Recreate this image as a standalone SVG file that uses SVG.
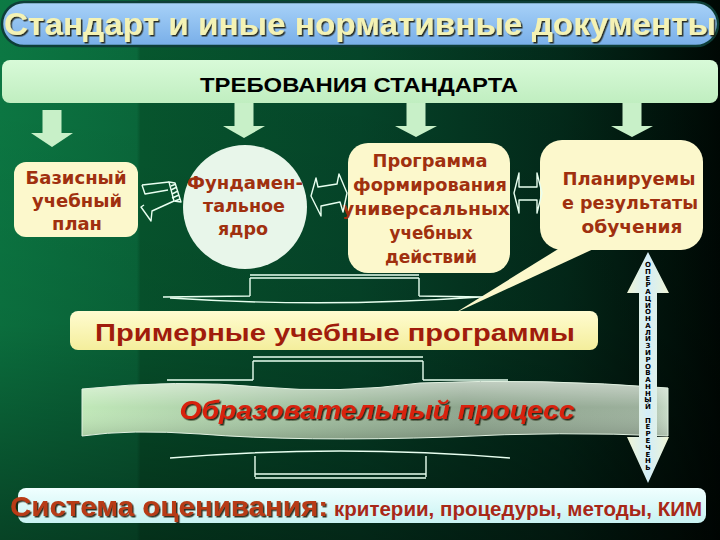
<svg xmlns="http://www.w3.org/2000/svg" width="720" height="540" viewBox="0 0 720 540">
<defs>
<linearGradient id="bg" x1="0" y1="0" x2="1" y2="0">
<stop offset="0" stop-color="#0c7a44"/>
<stop offset="0.19" stop-color="#0a6a3c"/>
<stop offset="0.195" stop-color="#07582f"/>
<stop offset="0.5" stop-color="#05462a"/>
<stop offset="0.78" stop-color="#032a1a"/>
<stop offset="1" stop-color="#000804"/>
</linearGradient>
<linearGradient id="bgv" x1="0" y1="0" x2="0" y2="1">
<stop offset="0" stop-color="#000" stop-opacity="0"/>
<stop offset="0.6" stop-color="#000" stop-opacity="0.1"/>
<stop offset="1" stop-color="#000" stop-opacity="0.45"/>
</linearGradient>
<linearGradient id="titleG" x1="0" y1="0" x2="0" y2="1">
<stop offset="0" stop-color="#a8d2f8"/>
<stop offset="1" stop-color="#78aee8"/>
</linearGradient>
<linearGradient id="reqG" x1="0" y1="0" x2="0" y2="1">
<stop offset="0" stop-color="#d8fad8"/>
<stop offset="1" stop-color="#c0eec0"/>
</linearGradient>
<linearGradient id="primG" x1="0" y1="0" x2="0" y2="1">
<stop offset="0" stop-color="#fffcd0"/>
<stop offset="1" stop-color="#f4ee9c"/>
</linearGradient>
<linearGradient id="cylH" x1="0" y1="0" x2="1" y2="0">
<stop offset="0" stop-color="#c0e8b8"/>
<stop offset="0.3" stop-color="#a8c8a6"/>
<stop offset="0.65" stop-color="#8ea68e"/>
<stop offset="0.95" stop-color="#9cb09c"/>
<stop offset="1" stop-color="#c8dcc8"/>
</linearGradient>
<linearGradient id="cylV" x1="0" y1="0" x2="0" y2="1">
<stop offset="0" stop-color="#fff" stop-opacity="0.45"/>
<stop offset="0.45" stop-color="#fff" stop-opacity="0"/>
<stop offset="1" stop-color="#000" stop-opacity="0.15"/>
</linearGradient>
<linearGradient id="varrG" x1="0" y1="0" x2="1" y2="0">
<stop offset="0" stop-color="#eef4d4"/>
<stop offset="0.5" stop-color="#d4eef8"/>
<stop offset="1" stop-color="#eef4d4"/>
</linearGradient>
<linearGradient id="sysG" x1="0" y1="0" x2="0" y2="1">
<stop offset="0" stop-color="#f0ffff"/>
<stop offset="1" stop-color="#c8f2f2"/>
</linearGradient>
<filter id="shd" x="-5%" y="-30%" width="110%" height="160%">
<feDropShadow dx="1.5" dy="1.5" stdDeviation="0.4" flood-color="#1a1a10" flood-opacity="0.9"/>
</filter>
<style>
.node{fill:#fcf8cc}
.nt{font-family:"DejaVu Sans",sans-serif;font-weight:bold;font-size:18px;text-anchor:middle;fill:#a0300f}
.ln{fill:none;stroke:#e8fff0;stroke-width:1.4;stroke-linejoin:round}
.dn{fill:#c8f0c8}
.vl{font-family:"DejaVu Sans",sans-serif;font-weight:bold;font-size:7px;text-anchor:middle;fill:#000}
</style>
</defs>

<rect x="0" y="0" width="720" height="540" fill="url(#bg)"/>
<rect x="0" y="0" width="720" height="540" fill="url(#bgv)"/>

<g id="title">
<rect x="2" y="2" width="716" height="44" rx="22" fill="url(#titleG)" stroke="#0e3e38" stroke-width="2.5"/>
<text x="360" y="35" font-family="Liberation Sans, sans-serif" font-weight="bold" font-size="31" textLength="712" lengthAdjust="spacingAndGlyphs" text-anchor="middle" fill="#f4f2b4" filter="url(#shd)">Стандарт и иные нормативные документы</text>
</g>

<g id="requirements">
<rect x="2" y="60" width="716" height="43" rx="8" fill="url(#reqG)"/>
<text x="359" y="92" font-family="Liberation Sans, sans-serif" font-weight="bold" font-size="20" textLength="318" lengthAdjust="spacingAndGlyphs" text-anchor="middle" fill="#000">ТРЕБОВАНИЯ СТАНДАРТА</text>
</g>

<g id="connectors">
<polygon class="dn" points="42.5,110 61.5,110 61.5,133 73,133 52,147 31,133 42.5,133"/>
<polygon class="dn" points="234.5,103 253.5,103 253.5,126 265,126 244,138 223,126 234.5,126"/>
<polygon class="dn" points="406.5,103 425.5,103 425.5,126 437,126 416,137 395,126 406.5,126"/>
<polygon class="dn" points="622.5,103 641.5,103 641.5,126 653,126 632,137 611,126 622.5,126"/>
</g>

<g id="basic-plan">
<rect class="node" x="14" y="162" width="124" height="75" rx="12"/>
<text class="nt" x="76" y="184" textLength="101" lengthAdjust="spacingAndGlyphs" fill="#9a3414">Базисный</text>
<text class="nt" x="77" y="207" textLength="90" lengthAdjust="spacingAndGlyphs" fill="#9a3414">учебный</text>
<text class="nt" x="77" y="230" textLength="50" lengthAdjust="spacingAndGlyphs" fill="#9a3414">план</text>
</g>

<g id="core">
<circle cx="245" cy="207" r="62" fill="#e8f6ea"/>
<text class="nt" x="245" y="189" textLength="116" lengthAdjust="spacingAndGlyphs" fill="#d42a12">Фундамен-</text>
<text class="nt" x="244" y="212" textLength="82" lengthAdjust="spacingAndGlyphs" fill="#d42a12">тальное</text>
<text class="nt" x="243" y="235" textLength="50" lengthAdjust="spacingAndGlyphs" fill="#d42a12">ядро</text>
</g>

<g id="uud-program">
<rect class="node" x="348" y="143" width="162" height="130" rx="20"/>
<text class="nt" x="430" y="167" textLength="115" lengthAdjust="spacingAndGlyphs">Программа</text>
<text class="nt" x="430" y="191" textLength="154" lengthAdjust="spacingAndGlyphs">формирования</text>
<text class="nt" x="426" y="215" textLength="168" lengthAdjust="spacingAndGlyphs">универсальных</text>
<text class="nt" x="431" y="239" textLength="83" lengthAdjust="spacingAndGlyphs">учебных</text>
<text class="nt" x="431" y="263" textLength="92" lengthAdjust="spacingAndGlyphs">действий</text>
</g>

<g id="planned-results">
<polygon class="node" points="563,246 600,246 455,313"/>
<rect class="node" x="540" y="140" width="163" height="110" rx="22"/>
<text class="nt" x="629" y="185" textLength="133" lengthAdjust="spacingAndGlyphs">Планируемы</text>
<text class="nt" x="630" y="209" textLength="136" lengthAdjust="spacingAndGlyphs">е результаты</text>
<text class="nt" x="632" y="233" textLength="101" lengthAdjust="spacingAndGlyphs">обучения</text>
</g>

<g id="links">
<polyline class="ln" points="142,185 145,194 168,190"/>
<polyline class="ln" points="142,185 169,182"/>
<polygon class="ln" points="169,182 175,183 181,202 174,201"/>
<path class="ln" d="M171,186 L176,184 M171,190 L177,187 M172,194 L178,191 M172,198 L179,195 M175,201 L180,199" stroke-width="1"/>
<polyline class="ln" points="174,201 152,211 151,221 141,207 144,205"/>
<polygon class="ln" points="311,196 316,178 318,187 337,184 339,174 347,193 343,212 340,202 321,206 321,216"/>
<polygon class="ln" points="514,193 519,173 519,187 537,187 537,173 542,193 537,213 537,200 519,200 519,213"/>
<path class="ln" d="M250,275 L419,275 M250,278 L419,278 M250,278 L250,296 M419,278 L419,296 M163,297 L250,296 M419,296 L483,297 M170,298 Q325,308 480,297"/>
<path class="ln" d="M253,357 L423,357 M253,361 L423,361 M253,361 L253,380 M423,361 L423,380 M167,380 L253,380 M423,380 L508,380"/>
<path class="ln" d="M170,458 Q340,444 510,458 M255,456 L255,477 M426,456 L426,477 M255,474 L426,474 M255,478 L426,478"/>
</g>

<g id="sample-programs">
<rect x="70" y="311" width="528" height="39" rx="8" fill="url(#primG)"/>
<text x="335" y="341" font-family="Liberation Sans, sans-serif" font-weight="bold" font-size="24" textLength="480" lengthAdjust="spacingAndGlyphs" text-anchor="middle" fill="#a01c0c">Примерные учебные программы</text>
</g>

<g id="edu-process">
<path d="M82,389 Q180,379 260,387 Q340,394 420,383 Q540,378 668,388 L668,436 Q560,431 450,437 Q300,442 200,434 Q130,429 82,436 Z" fill="url(#cylH)"/>
<path d="M82,389 Q180,379 260,387 Q340,394 420,383 Q540,378 668,388 L668,436 Q560,431 450,437 Q300,442 200,434 Q130,429 82,436 Z" fill="url(#cylV)" stroke="#e0f0e0" stroke-width="1"/>
<text x="377" y="419" font-family="Liberation Sans, sans-serif" font-weight="bold" font-style="italic" font-size="25" textLength="395" lengthAdjust="spacingAndGlyphs" text-anchor="middle" fill="#d82010" filter="url(#shd)">Образовательный процесс</text>
</g>

<g id="operational-list">
<polygon points="648,252 669,293 657,293 657,437 669,437 648,483 627,437 639,437 639,293 627,293" fill="url(#varrG)"/>
<text class="vl"><tspan x="648" y="267">О</tspan><tspan x="648" dy="6.77">П</tspan><tspan x="648" dy="6.77">Е</tspan><tspan x="648" dy="6.77">Р</tspan><tspan x="648" dy="6.77">А</tspan><tspan x="648" dy="6.77">Ц</tspan><tspan x="648" dy="6.77">И</tspan><tspan x="648" dy="6.77">О</tspan><tspan x="648" dy="6.77">Н</tspan><tspan x="648" dy="6.77">А</tspan><tspan x="648" dy="6.77">Л</tspan><tspan x="648" dy="6.77">И</tspan><tspan x="648" dy="6.77">З</tspan><tspan x="648" dy="6.77">И</tspan><tspan x="648" dy="6.77">Р</tspan><tspan x="648" dy="6.77">О</tspan><tspan x="648" dy="6.77">В</tspan><tspan x="648" dy="6.77">А</tspan><tspan x="648" dy="6.77">Н</tspan><tspan x="648" dy="6.77">Н</tspan><tspan x="648" dy="6.77">Ы</tspan><tspan x="648" dy="6.77">Й</tspan><tspan x="648" dy="13.54">П</tspan><tspan x="648" dy="6.77">Е</tspan><tspan x="648" dy="6.77">Р</tspan><tspan x="648" dy="6.77">Е</tspan><tspan x="648" dy="6.77">Ч</tspan><tspan x="648" dy="6.77">Е</tspan><tspan x="648" dy="6.77">Н</tspan><tspan x="648" dy="6.77">Ь</tspan></text>
</g>

<g id="assessment">
<rect x="18" y="488" width="688" height="35" rx="8" fill="url(#sysG)"/>
<text x="10" y="516" font-family="Liberation Sans, sans-serif" font-weight="bold" font-size="28" textLength="318" lengthAdjust="spacingAndGlyphs" fill="#b83a14" filter="url(#shd)">Система оценивания:</text>
<text x="334" y="516" font-family="Liberation Sans, sans-serif" font-weight="bold" font-size="20" textLength="368" lengthAdjust="spacingAndGlyphs" fill="#a82818">критерии, процедуры, методы, КИМ</text>
</g>
</svg>
